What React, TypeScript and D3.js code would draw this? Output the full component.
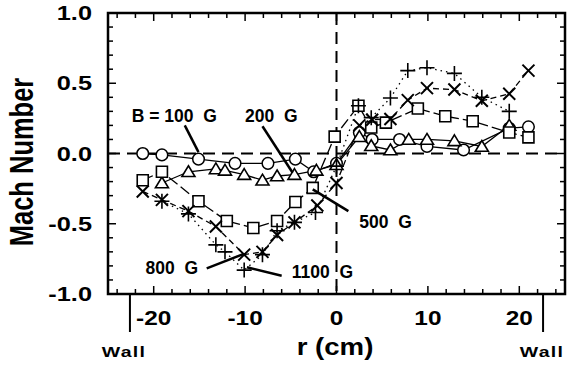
import { useEffect, useRef } from 'react';
import * as d3 from 'd3';

// radius (cm) and Mach number for each field strength
const r100 = [-21.2, -19.1, -15.1, -11.1, -7.5, -4.5, -2.5, 0, 2.5, 3.9, 6.9, 9.9, 13.9, 18.9, 21.0];
const m100 = [0.0, -0.01, -0.04, -0.07, -0.07, -0.04, -0.13, -0.07, 0.15, 0.1, 0.1, 0.05, 0.025, 0.18, 0.19];

const r200 = [-19.1, -16.2, -13.2, -12.2, -10.1, -8.1, -6.5, -4.6, -2.2, 0, 2.5, 3.8, 5.9, 7.9, 9.9, 12.9, 15.9, 18.9];
const m200 = [-0.21, -0.13, -0.11, -0.12, -0.15, -0.19, -0.16, -0.15, -0.12, -0.08, 0.12, 0.055, 0.025, 0.1, 0.1, 0.09, 0.05, 0.2];

const r500 = [-21.2, -19.1, -15.1, -12.0, -9.1, -6.5, -4.5, -2.6, -0.2, 2.4, 3.8, 5.4, 8.9, 11.9, 14.9, 18.9, 21.0];
const m500 = [-0.19, -0.13, -0.34, -0.48, -0.53, -0.48, -0.345, -0.245, 0.12, 0.34, 0.185, 0.22, 0.32, 0.265, 0.23, 0.15, 0.115];

const r800 = [-21.2, -19.1, -16.2, -13.2, -10.1, -8.1, -6.5, -4.6, -2.1, 0, 2.5, 3.9, 5.9, 7.8, 9.9, 12.9, 15.9, 18.9, 21.0];
const m800 = [-0.27, -0.33, -0.41, -0.52, -0.72, -0.7, -0.58, -0.49, -0.37, -0.21, 0.2, 0.24, 0.245, 0.38, 0.465, 0.455, 0.375, 0.425, 0.59];

const r1100 = [-19.1, -16.2, -13.2, -12.2, -10.1, -8.1, -6.5, -4.6, -2.3, 0, 2.4, 3.8, 5.9, 7.8, 9.9, 12.9, 15.9, 18.9];
const m1100 = [-0.34, -0.43, -0.65, -0.7, -0.83, -0.72, -0.55, -0.49, -0.42, -0.09, 0.34, 0.255, 0.395, 0.59, 0.61, 0.57, 0.4, 0.3];

const xTicks = [-20, -10, 0, 10, 20];
const yTicks = [-1.0, -0.5, 0.0, 0.5, 1.0];
const wallPos = [-22.6, 22.6];

// annotation labels: text, left x (cm), baseline (Mach)
const noteText = ['B = 100  G', '200  G', '500  G', '800  G', '1100  G'];
const noteX = [-22.4, -10.0, 2.5, -20.9, -4.9];
const noteY = [0.222, 0.222, -0.527, -0.858, -0.889];
// leader lines: from (x1,y1) to (x2,y2)
const leadX1 = [-16.6, -8.1, 1.3, -14.2, -6.0];
const leadY1 = [0.2, 0.194, -0.41, -0.818, -0.87];
const leadX2 = [-15.1, -4.8, -2.6, -10.2, -9.8];
const leadY2 = [0.01, -0.137, -0.255, -0.716, -0.81];

const FONT = '"Liberation Sans", Arial, Helvetica, sans-serif';

const App = () => {
    const svgRef = useRef<SVGSVGElement>(null);

    useEffect(() => {
        const width = 567;
        const height = 372;

        const root = d3.select(svgRef.current);
        root.selectAll('*').remove();
        root.attr('width', width).attr('height', height);

        const svg = root.append('g');

        const x = d3.scaleLinear().domain([-25, 25]).range([108, 565]);
        const y = d3.scaleLinear().domain([-1, 1]).range([294, 13]);

        // ----- zero reference lines
        svg.append('line')
            .attr('x1', x(-25)).attr('x2', x(25))
            .attr('y1', y(0)).attr('y2', y(0))
            .attr('stroke', '#000').attr('stroke-width', 2)
            .attr('stroke-dasharray', '12,7');
        svg.append('line')
            .attr('x1', x(0)).attr('x2', x(0))
            .attr('y1', y(1)).attr('y2', y(-1))
            .attr('stroke', '#000').attr('stroke-width', 2)
            .attr('stroke-dasharray', '12,7');

        // ----- series
        const series = [
            { r: r100, m: m100, shape: 'circle', dash: null },
            { r: r200, m: m200, shape: 'triangle', dash: null },
            { r: r500, m: m500, shape: 'square', dash: '11,4' },
            { r: r800, m: m800, shape: 'x', dash: '6,4' },
            { r: r1100, m: m1100, shape: 'plus', dash: '1.5,4' },
        ];

        const line = d3.line<[number, number]>()
            .x((d) => x(d[0]))
            .y((d) => y(d[1]));

        series.forEach((s) => {
            const pts = s.r.map((v, i) => [v, s.m[i]] as [number, number]);
            svg.append('path')
                .attr('d', line(pts))
                .attr('fill', 'none')
                .attr('stroke', '#000')
                .attr('stroke-width', 1.3)
                .attr('stroke-dasharray', s.dash);
        });

        const markerPath = (shape: string) => {
            if (shape === 'triangle') return 'M0,-6L6.5,4.8L-6.5,4.8Z';
            if (shape === 'square') return 'M-5.5,-5.5H5.5V5.5H-5.5Z';
            if (shape === 'x') return 'M-6,-6L6,6M-6,6L6,-6';
            if (shape === 'plus') return 'M-7.5,0H7.5M0,-7.5V7.5';
            return '';
        };

        series.forEach((s) => {
            const pts = s.r.map((v, i) => [v, s.m[i]]);
            const g = svg.append('g');
            if (s.shape === 'circle') {
                g.selectAll('circle')
                    .data(pts)
                    .enter()
                    .append('circle')
                    .attr('cx', (d) => x(d[0]))
                    .attr('cy', (d) => y(d[1]))
                    .attr('r', 5.8)
                    .attr('fill', '#fff')
                    .attr('stroke', '#000')
                    .attr('stroke-width', 1.5);
            } else {
                const open = s.shape === 'triangle' || s.shape === 'square';
                g.selectAll('path')
                    .data(pts)
                    .enter()
                    .append('path')
                    .attr('d', markerPath(s.shape))
                    .attr('transform', (d) => `translate(${x(d[0])},${y(d[1])})`)
                    .attr('fill', open ? '#fff' : 'none')
                    .attr('stroke', '#000')
                    .attr('stroke-width', s.shape === 'x' ? 2 : 1.6);
            }
        });

        // ----- frame and ticks
        svg.append('rect')
            .attr('x', x(-25)).attr('y', y(1))
            .attr('width', x(25) - x(-25))
            .attr('height', y(-1) - y(1))
            .attr('fill', 'none')
            .attr('stroke', '#000')
            .attr('stroke-width', 2.5);

        const ticks = svg.append('g').attr('stroke', '#000').attr('stroke-width', 1.5);
        d3.range(-24, 25, 2).forEach((v) => {
            const len = v % 10 === 0 ? 8 : 5;
            ticks.append('line').attr('x1', x(v)).attr('x2', x(v))
                .attr('y1', y(-1)).attr('y2', y(-1) - len);
            ticks.append('line').attr('x1', x(v)).attr('x2', x(v))
                .attr('y1', y(1)).attr('y2', y(1) + len);
        });
        d3.range(-10, 11, 1).forEach((k) => {
            const v = k / 10;
            const len = k % 5 === 0 ? 8 : 5;
            ticks.append('line').attr('x1', x(-25)).attr('x2', x(-25) + len)
                .attr('y1', y(v)).attr('y2', y(v));
            ticks.append('line').attr('x1', x(25)).attr('x2', x(25) - len)
                .attr('y1', y(v)).attr('y2', y(v));
        });

        // ----- wall markers
        wallPos.forEach((w) => {
            svg.append('line')
                .attr('x1', x(w)).attr('x2', x(w))
                .attr('y1', y(-1)).attr('y2', y(-1) + 38)
                .attr('stroke', '#000').attr('stroke-width', 2);
        });

        // ----- text (the original figure is stretched sideways)
        const label = (tx: number, ty: number, txt: string, size: number, anchor: string, sx: number) =>
            svg.append('text')
                .attr('transform', `translate(${tx},${ty}) scale(${sx},1)`)
                .attr('text-anchor', anchor)
                .attr('font-family', FONT)
                .attr('font-weight', 'bold')
                .attr('font-size', size)
                .attr('fill', '#000')
                .text(txt);

        yTicks.forEach((v) => {
            label(92, y(v) + 7, v.toFixed(1), 19.5, 'end', 1.3);
        });
        xTicks.forEach((v) => {
            label(x(v), 325, String(v), 19.5, 'middle', 1.25);
        });

        label(124, 357, 'Wall', 15, 'middle', 1.3).attr('letter-spacing', 1);
        label(542, 357, 'Wall', 15, 'middle', 1.3).attr('letter-spacing', 1);
        label(335, 355, 'r (cm)', 23, 'middle', 1.2);

        svg.append('text')
            .attr('transform', 'translate(33,162) scale(1.3,1) rotate(-90)')
            .attr('text-anchor', 'middle')
            .attr('font-family', FONT)
            .attr('font-weight', 'bold')
            .attr('font-size', 25.5)
            .text('Mach Number');

        // ----- annotations
        noteText.forEach((t, i) => {
            svg.append('text')
                .attr('x', x(noteX[i]))
                .attr('y', y(noteY[i]))
                .attr('font-family', FONT)
                .attr('font-weight', 'bold')
                .attr('font-size', 17.5)
                .style('white-space', 'pre')
                .text(t);
            svg.append('line')
                .attr('x1', x(leadX1[i])).attr('y1', y(leadY1[i]))
                .attr('x2', x(leadX2[i])).attr('y2', y(leadY2[i]))
                .attr('stroke', '#000')
                .attr('stroke-width', 2.5);
        });
    }, []);

    return (
        <svg
            ref={svgRef}
            style={{ position: 'absolute', left: 0, top: 0, background: '#fff' }}
        ></svg>
    );
};

export default App;
